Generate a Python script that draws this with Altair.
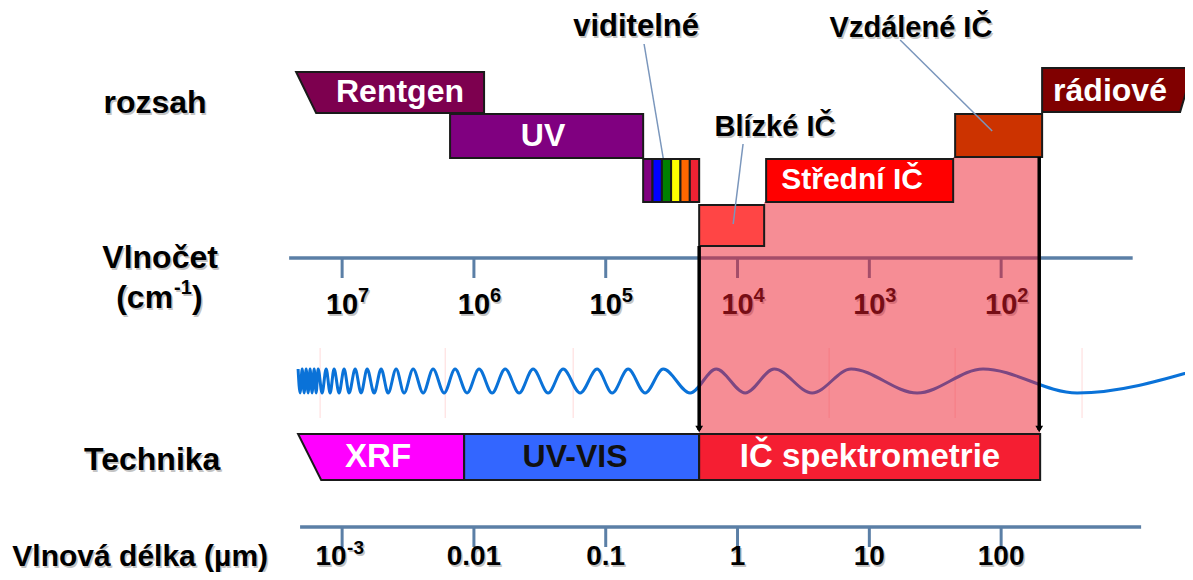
import altair as alt
import pandas as pd

# ------------------------------------------------------------------
# Values.
# x = log10(wavelength / µm)  (10^7 cm-1 = 10^-3 µm, ... 10^2 cm-1 = 100 µm)
# y = vertical level of the diagram (0 = top)
# ------------------------------------------------------------------
decades = [-3, -2, -1, 0, 1, 2]
wavenumber_base = ["10", "10", "10", "10", "10", "10"]
wavenumber_exp = ["7", "6", "5", "4", "3", "2"]
wavelength_labels = ["10", "0.01", "0.1", "1", "10", "100"]
wavelength_exp = ["-3", "", "", "", "", ""]

# rozsah (spectral ranges)
rentgen_x = [-3.349, -3.197, -1.923]
uv_x = [-2.181, -0.716]
visible_x = [-0.716, -0.645, -0.574, -0.504, -0.433, -0.362, -0.291]
visible_colors = ["#800080", "#0000FF", "#008000", "#FFFF00", "#FF6600", "#EE2233"]
nir_x = [-0.291, 0.202]
mir_x = [0.217, 1.636]
fir_x = [1.651, 2.311]
radio_x = [2.311, 3.358, 3.457]

# technika
xrf_x = [-3.334, -3.159, -2.074]
uvvis_x = [-2.074, -0.291]
ir_x = [-0.291, 2.296]

# IR window (highlight) and arrows
ir_window_x = [-0.291, 0.202, 1.636, 2.296]
arrow_x = [-0.291, 2.289]

# wave: positions of crests / troughs (alternating, first one a crest)
wave_x = [-3.334, -3.319, -3.303, -3.288, -3.273, -3.258, -3.243, -3.228, -3.212,
          -3.197, -3.182, -3.152, -3.121, -3.091, -3.061, -3.023, -2.985, -2.947,
          -2.901, -2.856, -2.810, -2.757, -2.704, -2.651, -2.590, -2.530, -2.461,
          -2.385, -2.310, -2.226, -2.143, -2.052, -1.961, -1.862, -1.763, -1.657,
          -1.551, -1.437, -1.323, -1.194, -1.065, -0.951, -0.830, -0.701, -0.564,
          -0.360, -0.162, 0.058, 0.278, 0.566, 0.862, 1.363, 1.863, 2.577, 3.510]
faint_lines_x = [-3.167, -2.218, -1.247, 0.695, 1.651, 2.614]

# texts
range_names = ["Rentgen", "UV", "Střední IČ", "rádiové"]
range_label_x = [-2.561, -1.476, 0.869, 2.826]
callout_names = ["viditelné", "Blízké IČ", "Vzdálené IČ"]
callout_x = [-0.770, 0.284, 1.316]
callout_from_x = [-0.709, 0.042, 1.234]
callout_to_x = [-0.564, -0.033, 1.932]
tech_names = ["XRF", "UV-VIS", "IČ spektrometrie"]
tech_label_x = [-2.727, -1.233, 1.005]
row_names = ["rozsah", "Vlnočet", "Technika"]
row_label_x = [-4.419, -4.381, -4.441]
unit_x = -4.381
unit_parts = ["(cm", "-1", ")"]
wl_title = "Vlnová délka (µm)"
wl_title_x = -4.532
top_axis_x = [-3.402, 2.998]
bottom_axis_x = [-3.319, 3.062]

# ------------------------------------------------------------------
# Layout (diagram levels)
# ------------------------------------------------------------------
W, H = 1177, 564
ROW_RENTGEN = (64, 105)
ROW_UV = (106, 150)
ROW_VIS = (151, 194)
ROW_NIR = (197, 238)
ROW_FIR = (106, 149)
ROW_RADIO = (60, 104)
ROW_TECH = (426, 472)
TOP_AXIS = 250
BOTTOM_AXIS = 519
TICK_LEN = 20
TOP_LABEL_Y = 297
BOTTOM_LABEL_Y = 549
WAVE_CREST, WAVE_TROUGH = 361, 385
row_label_y = [95, 250, 452]
unit_y = 290
callout_y = [19, 119, 20]
callout_from_y = [36, 136, 32]
callout_to_y = [150, 216, 123]

FONT = "Liberation Sans"
OUTLINE = "#1a1a1a"
AXIS_BLUE = "#5B7FA6"
SHADOW = "#C4C4C4"

xs = alt.Scale(domain=[-5.535, 3.395], nice=False, zero=False)
ys = alt.Scale(domain=[0, H], reverse=True, nice=False, zero=False)


def X(f):
    return alt.X(f + ":Q", scale=xs, axis=None)


def Y(f):
    return alt.Y(f + ":Q", scale=ys, axis=None)


def rect_layer(df, stroke=OUTLINE, sw=2):
    return alt.Chart(df).mark_rect(stroke=stroke, strokeWidth=sw, opacity=1).encode(
        x=X("x0"), x2="x1:Q", y=Y("y0"), y2="y1:Q",
        color=alt.Color("c:N", scale=None))


def poly_layer(xv, top, bot, fill):
    df = pd.DataFrame({"x": xv, "t": top, "b": bot})
    return alt.Chart(df).mark_area(fill=fill, stroke=OUTLINE, strokeWidth=2, opacity=1,
                                   interpolate="linear").encode(
        x=X("x"), y=Y("t"), y2="b:Q")


def rule_layer(df, color, sw):
    return alt.Chart(df).mark_rule(color=color, strokeWidth=sw).encode(
        x=X("x0"), x2="x1:Q", y=Y("y0"), y2="y1:Q")


def text_layer(df, size, color, dx=0, dy=0, align="center", weight="bold"):
    return alt.Chart(df).mark_text(font=FONT, fontWeight=weight, fontSize=size, color=color,
                                   align=align, baseline="middle", dx=dx, dy=dy).encode(
        x=X("x"), y=Y("y"), text="t:N")


def shadowed(df, size, dx=0, dy=0, align="center", color="#000000"):
    return [text_layer(df, size, SHADOW, dx=dx + 1.5, dy=dy + 1.5, align=align),
            text_layer(df, size, color, dx=dx, dy=dy, align=align)]


layers = []

# faint vertical guide lines behind the wave
layers.append(rule_layer(pd.DataFrame({"x0": faint_lines_x, "x1": faint_lines_x,
                                       "y0": [340] * 6, "y1": [410] * 6}), "#FFDADA", 1))

# wavenumber axis
layers.append(rule_layer(pd.DataFrame({"x0": [top_axis_x[0]], "x1": [top_axis_x[1]],
                                       "y0": [TOP_AXIS], "y1": [TOP_AXIS]}), AXIS_BLUE, 3.5))
layers.append(rule_layer(pd.DataFrame({"x0": decades, "x1": decades,
                                       "y0": [TOP_AXIS] * 6, "y1": [TOP_AXIS + TICK_LEN] * 6}), AXIS_BLUE, 3))
layers += shadowed(pd.DataFrame({"x": decades, "y": [TOP_LABEL_Y] * 6, "t": wavenumber_base}), 29, dx=0)
layers += shadowed(pd.DataFrame({"x": decades, "y": [TOP_LABEL_Y] * 6, "t": wavenumber_exp}), 20,
                   dx=16, dy=-9, align="left")

# wave
wave_df = pd.DataFrame({"x": wave_x,
                        "y": [WAVE_CREST if i % 2 == 0 else WAVE_TROUGH for i in range(len(wave_x))]})
layers.append(alt.Chart(wave_df).mark_line(color="#0A72D8", strokeWidth=3, interpolate="monotone").encode(
    x=X("x"), y=Y("y")))

# translucent IR window
win_df = pd.DataFrame({"x": ir_window_x, "t": [ROW_NIR[1], ROW_VIS[1], ROW_FIR[1], ROW_FIR[1]],
                       "b": [ROW_TECH[0]] * 4})
layers.append(alt.Chart(win_df).mark_area(fill="#EE1C2C", opacity=0.5, interpolate="step-after").encode(
    x=X("x"), y=Y("t"), y2="b:Q"))

# range boxes
layers.append(poly_layer(rentgen_x, [ROW_RENTGEN[0]] * 3,
                         [ROW_RENTGEN[0], ROW_RENTGEN[1], ROW_RENTGEN[1]], "#7D004F"))
layers.append(poly_layer(radio_x, [ROW_RADIO[0]] * 3,
                         [ROW_RADIO[1], ROW_RADIO[1], ROW_RADIO[0]], "#800000"))
box_df = pd.DataFrame({
    "x0": [uv_x[0], nir_x[0], mir_x[0], fir_x[0]],
    "x1": [uv_x[1], nir_x[1], mir_x[1], fir_x[1]],
    "y0": [ROW_UV[0], ROW_NIR[0], ROW_VIS[0], ROW_FIR[0]],
    "y1": [ROW_UV[1], ROW_NIR[1], ROW_VIS[1], ROW_FIR[1]],
    "c": ["#800080", "#FF4545", "#FF0000", "#CC3300"]})
layers.append(rect_layer(box_df))
vis_df = pd.DataFrame({"x0": visible_x[:-1], "x1": visible_x[1:],
                       "y0": [ROW_VIS[0]] * 6, "y1": [ROW_VIS[1]] * 6, "c": visible_colors})
layers.append(rect_layer(vis_df))
layers.append(text_layer(pd.DataFrame({"x": range_label_x[:2] + range_label_x[3:],
                                       "y": [84, 128, 83],
                                       "t": range_names[:2] + range_names[3:]}), 32, "#FFFFFF"))
layers.append(text_layer(pd.DataFrame({"x": [range_label_x[2]], "y": [172], "t": [range_names[2]]}),
                         30, "#FFFFFF"))

# callouts
layers.append(rule_layer(pd.DataFrame({"x0": callout_from_x, "x1": callout_to_x,
                                       "y0": callout_from_y, "y1": callout_to_y}), "#7A96BC", 1.5))
layers += shadowed(pd.DataFrame({"x": callout_x[:1], "y": callout_y[:1], "t": callout_names[:1]}), 31)
layers += shadowed(pd.DataFrame({"x": callout_x[1:], "y": callout_y[1:], "t": callout_names[1:]}), 29)

# technika
layers.append(poly_layer(xrf_x, [ROW_TECH[0]] * 3, [ROW_TECH[0], ROW_TECH[1], ROW_TECH[1]], "#FF00FF"))
tech_df = pd.DataFrame({"x0": [uvvis_x[0], ir_x[0]], "x1": [uvvis_x[1], ir_x[1]],
                        "y0": [ROW_TECH[0]] * 2, "y1": [ROW_TECH[1]] * 2,
                        "c": ["#3366FF", "#F51E32"]})
layers.append(rect_layer(tech_df))
layers.append(text_layer(pd.DataFrame({"x": [tech_label_x[0], tech_label_x[2]], "y": [449, 449],
                                       "t": [tech_names[0], tech_names[2]]}), 33, "#FFFFFF"))
layers.append(text_layer(pd.DataFrame({"x": [tech_label_x[1]], "y": [449], "t": [tech_names[1]]}),
                         32, "#111111"))

# arrows
layers.append(rule_layer(pd.DataFrame({"x0": arrow_x, "x1": arrow_x,
                                       "y0": [ROW_NIR[1], ROW_FIR[1]], "y1": [ROW_TECH[0] - 4] * 2}),
                         "#000000", 3.5))
layers.append(alt.Chart(pd.DataFrame({"x": arrow_x, "y": [ROW_TECH[0] - 5] * 2})).mark_point(
    shape="triangle-down", filled=True, color="#000000", size=60, opacity=1).encode(x=X("x"), y=Y("y")))

# wavelength axis
layers.append(rule_layer(pd.DataFrame({"x0": [bottom_axis_x[0]], "x1": [bottom_axis_x[1]],
                                       "y0": [BOTTOM_AXIS], "y1": [BOTTOM_AXIS]}), AXIS_BLUE, 3.5))
layers.append(rule_layer(pd.DataFrame({"x0": decades, "x1": decades,
                                       "y0": [BOTTOM_AXIS] * 6, "y1": [BOTTOM_AXIS + TICK_LEN] * 6}),
                         AXIS_BLUE, 3))
with_exp = [i for i, e in enumerate(wavelength_exp) if e]
no_exp = [i for i, e in enumerate(wavelength_exp) if not e]
layers += shadowed(pd.DataFrame({"x": [decades[i] for i in no_exp], "y": [BOTTOM_LABEL_Y] * len(no_exp),
                                 "t": [wavelength_labels[i] for i in no_exp]}), 28)
layers += shadowed(pd.DataFrame({"x": [decades[i] for i in with_exp], "y": [BOTTOM_LABEL_Y] * len(with_exp),
                                 "t": [wavelength_labels[i] for i in with_exp]}), 28, dx=-11)
layers += shadowed(pd.DataFrame({"x": [decades[i] for i in with_exp], "y": [BOTTOM_LABEL_Y] * len(with_exp),
                                 "t": [wavelength_exp[i] for i in with_exp]}), 19, dx=5, dy=-9, align="left")

# row titles
layers += shadowed(pd.DataFrame({"x": row_label_x, "y": row_label_y, "t": row_names}), 32)
layers += shadowed(pd.DataFrame({"x": [unit_x], "y": [unit_y], "t": [unit_parts[0]]}), 32, dx=13, align="right")
layers += shadowed(pd.DataFrame({"x": [unit_x], "y": [unit_y], "t": [unit_parts[1]]}), 20, dx=14, dy=-10,
                   align="left")
layers += shadowed(pd.DataFrame({"x": [unit_x], "y": [unit_y], "t": [unit_parts[2]]}), 32, dx=32, align="left")
layers += shadowed(pd.DataFrame({"x": [wl_title_x], "y": [BOTTOM_LABEL_Y], "t": [wl_title]}), 30)

chart = alt.layer(*layers).properties(
    width=W, height=H, padding=0,
    autosize=alt.AutoSizeParams(type="none"),
).configure_view(stroke=None)

chart.save("out.html", embed_options={"renderer": "svg", "actions": False})
